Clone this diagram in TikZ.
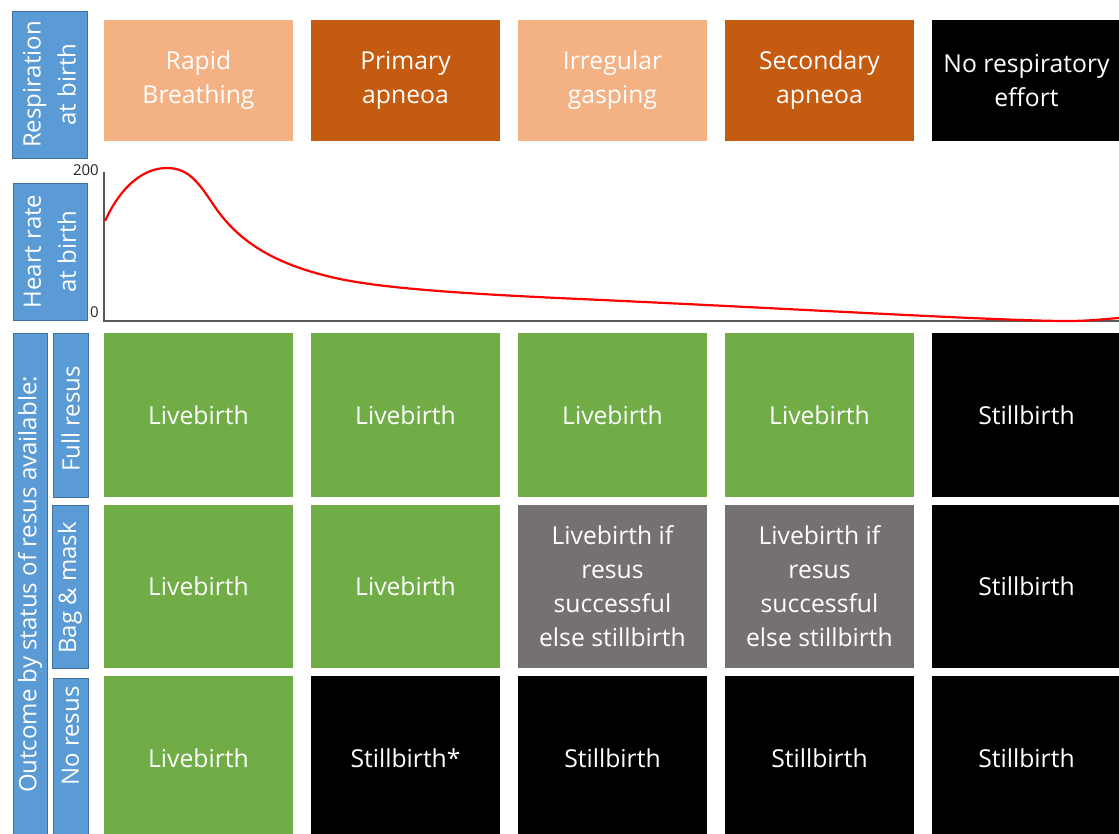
\documentclass[tikz,border=0pt]{standalone}
\usepackage{fontspec}
\setmainfont{Open Sans}
\definecolor{hdrblue}{HTML}{5B9BD5}
\definecolor{hdrline}{HTML}{41719C}
\definecolor{peach}{HTML}{F4B183}
\definecolor{rust}{HTML}{C55A11}
\definecolor{leaf}{HTML}{70AD47}
\definecolor{stone}{HTML}{767171}
\definecolor{axisgrey}{HTML}{595959}
\begin{document}
\begin{tikzpicture}[x=1pt,y=-1pt,
  cell/.style={minimum width=189pt, inner sep=0pt, text=white, align=center,
    font=\fontsize{24.7}{34}\selectfont},
  toprow/.style={cell, minimum height=121pt},
  gridcell/.style={cell, minimum height=164pt},
  sidebox/.style={fill=hdrblue, draw=hdrline, line width=0.8pt, inner sep=0pt},
  sidetext/.style={text=white, align=center, rotate=90, inner sep=0pt,
    font=\fontsize{24}{35}\selectfont},
  ticklabel/.style={inner sep=0pt, anchor=east, text=black!85,
    font=\fontsize{15}{15}\selectfont},
  axisline/.style={draw=axisgrey, line width=1.6pt},
  hrcurve/.style={draw=red, line width=2.2pt, line join=round}]
\useasboundingbox (0,0) rectangle (1119,834);
\clip (0,0) rectangle (1119,834);

% left-hand category labels
\node[sidebox, minimum width=147pt, minimum height=75pt, rotate=90] (lresp) at (49.5,84.5) {};
\node[sidetext] (tresp) at (lresp.center) {Respiration\\at birth};
\node[sidebox, minimum width=137pt, minimum height=74pt, rotate=90] (lheart) at (50,251.5) {};
\node[sidetext] (theart) at (lheart.center) {Heart rate\\at birth};
\node[sidebox, minimum width=510pt, minimum height=34pt, rotate=90] (lout) at (30,588) {};
\node[sidetext] (tout) at (30,584.5) {Outcome by status of resus available:};
\node[sidebox, minimum width=164pt, minimum height=35pt, rotate=90] (lfull) at (70.5,415) {};
\node[sidetext] (tfull) at (70.5,419) {Full resus};
\node[sidebox, minimum width=163pt, minimum height=36pt, rotate=90] (lbag) at (70,586.5) {};
\node[sidetext] (tbag) at (70,588) {Bag \& mask};
\node[sidebox, minimum width=170pt, minimum height=35pt, rotate=90] (lnone) at (70.5,763) {};
\node[sidetext] (tnone) at (70.5,736) {No resus};

% respiration stages
\node[toprow, fill=peach] (s1) at (198.5,80.5) {Rapid\\Breathing};
\node[toprow, fill=rust]  (s2) at (405.5,80.5) {Primary\\apneoa};
\node[toprow, fill=peach] (s3) at (612.5,80.5) {Irregular\\gasping};
\node[toprow, fill=rust]  (s4) at (819.5,80.5) {Secondary\\apneoa};
\node[toprow, fill=black] (s5) at (1026.5,80.5) {No respiratory\\effort};

% heart rate chart
\coordinate (ytop) at (104,172);
\coordinate (orig) at (104,321);
\coordinate (xend) at (1119,321);
\draw[axisline] (ytop) -- (orig) -- (xend);
\node[ticklabel] (t200) at (99,170) {200};
\node[ticklabel] (t0) at (99,312) {0};
\draw[hrcurve] (105,221)
  .. controls (122,184) and (145,168) .. (167,168)
  .. controls (190,168) and (200,185) .. (215,207)
  .. controls (235,236) and (265,260) .. (323,275)
  .. controls (360,285) and (420,292) .. (580,299)
  .. controls (800,309) and (1000,321) .. (1067,321)
  .. controls (1090,321) and (1105,319) .. (1119,318);

% outcomes: full resus
\node[gridcell, fill=leaf]  (a1) at (198.5,415) {Livebirth};
\node[gridcell, fill=leaf]  (a2) at (405.5,415) {Livebirth};
\node[gridcell, fill=leaf]  (a3) at (612.5,415) {Livebirth};
\node[gridcell, fill=leaf]  (a4) at (819.5,415) {Livebirth};
\node[gridcell, fill=black] (a5) at (1026.5,415) {Stillbirth};

% outcomes: bag & mask
\node[gridcell, minimum height=163pt, fill=leaf]  (b1) at (198.5,586.5) {Livebirth};
\node[gridcell, minimum height=163pt, fill=leaf]  (b2) at (405.5,586.5) {Livebirth};
\node[gridcell, minimum height=163pt, fill=stone] (b3) at (612.5,586.5) {Livebirth if\\resus\\successful\\else stillbirth};
\node[gridcell, minimum height=163pt, fill=stone] (b4) at (819.5,586.5) {Livebirth if\\resus\\successful\\else stillbirth};
\node[gridcell, minimum height=163pt, fill=black] (b5) at (1026.5,586.5) {Stillbirth};

% outcomes: no resus
\node[gridcell, fill=leaf]  (c1) at (198.5,758) {Livebirth};
\node[gridcell, fill=black] (c2) at (405.5,758) {Stillbirth*};
\node[gridcell, fill=black] (c3) at (612.5,758) {Stillbirth};
\node[gridcell, fill=black] (c4) at (819.5,758) {Stillbirth};
\node[gridcell, fill=black] (c5) at (1026.5,758) {Stillbirth};
\end{tikzpicture}
\end{document}
